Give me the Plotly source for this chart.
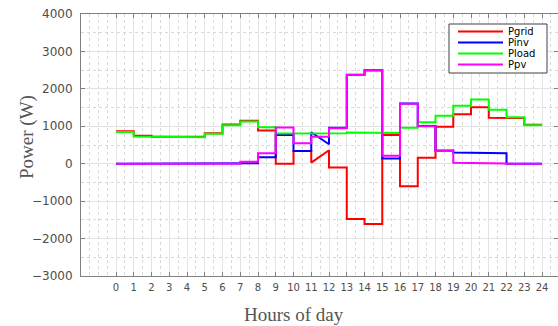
import plotly.graph_objects as go

# ---- data (per-hour interval levels, hours 0..23) ----
hours = list(range(24))
series_names = ["Pgrid", "Pinv", "Pload", "Ppv"]
series_colors = ["#ff0000", "#0000ff", "#00ff00", "#ff00ff"]

pgrid = [870, 750, 720, 720, 720, 815, 1050, 1150, 890, 0, 340, 30,
         -100, -1480, -1610, 770, -600, 160, 990, 1320, 1510, 1230, 1220, 1040]
pinv = [0, 0, 0, 0, 0, 0, 0, 10, 170, 770, 340, 840,
        960, 2380, 2500, 140, 1610, 1010, 350, 300, 280, 280, 0, 0]
pload = [850, 730, 710, 710, 710, 800, 1030, 1125, 975, 810, 815, 815,
         815, 835, 825, 820, 960, 1110, 1280, 1550, 1715, 1445, 1240, 1030]
ppv = [0, 0, 0, 0, 0, 0, 0, 55, 280, 970, 545, 720,
       950, 2370, 2490, 210, 1600, 1000, 340, 25, 10, 5, 0, 0]

# intervals where the value ramps linearly instead of staying flat: {hour: end value}
pgrid_ramp = {11: 360}
pinv_ramp = {11: 520}
pload_ramp = {}
ppv_ramp = {}

x_ticks = list(range(25))
y_ticks = [-3000, -2000, -1000, 0, 1000, 2000, 3000, 4000]
x_title = "Hours of day"
y_title = "Power (W)"


def stair(levels, ramps):
    xs, ys = [], []
    for h, v in zip(hours, levels):
        xs += [h, h + 1]
        ys += [v, ramps.get(h, v)]
    return xs, ys


fig = go.Figure()
for name, color, lv, rp in zip(series_names, series_colors,
                               [pgrid, pinv, pload, ppv],
                               [pgrid_ramp, pinv_ramp, pload_ramp, ppv_ramp]):
    xs, ys = stair(lv, rp)
    fig.add_trace(go.Scatter(x=xs, y=ys, mode="lines", name=name,
                             line=dict(color=color, width=2), showlegend=False))

W, H = 558, 326
L, R, T, B = 81, 0, 14, 50
pw, ph = W - L - R, H - T - B


def px(xp):
    return (xp - L) / pw


def py(yp):
    return (H - B - yp) / ph


# manual legend box (compact, like the MATLAB legend)
shapes = [dict(type="rect", xref="paper", yref="paper",
               x0=px(449), x1=px(547), y0=py(73), y1=py(24),
               line=dict(color="#404040", width=1), fillcolor="white", layer="above")]
annotations = []
for i, (name, color) in enumerate(zip(series_names, series_colors)):
    yy = 31.6 + i * 11.0
    shapes.append(dict(type="line", xref="paper", yref="paper",
                       x0=px(458), x1=px(503), y0=py(yy), y1=py(yy),
                       line=dict(color=color, width=2), layer="above"))
    annotations.append(dict(xref="paper", yref="paper", x=px(507), y=py(yy),
                            text=name, showarrow=False, xanchor="left", yanchor="middle",
                            height=11, valign="middle", borderpad=0,
                            font=dict(family="DejaVu Sans", size=10, color="black")))

# axis titles (placed like the reference)
annotations.append(dict(xref="paper", yref="paper", x=px(293.5), y=py(314),
                        text=x_title, showarrow=False, xanchor="center", yanchor="middle",
                        font=dict(family="Liberation Serif", size=19, color="#555555")))
annotations.append(dict(xref="paper", yref="paper", x=px(27), y=py(137),
                        text=y_title, showarrow=False, xanchor="center", yanchor="middle",
                        textangle=-90,
                        font=dict(family="Liberation Serif", size=19, color="#555555")))

grid_major = "#e3e3e3"
grid_minor = "#d9d9d9"
axis_col = "#808080"

fig.update_layout(
    width=W, height=H,
    margin=dict(l=L, r=R, t=T, b=B),
    paper_bgcolor="white", plot_bgcolor="white",
    shapes=shapes, annotations=annotations,
    xaxis=dict(range=[-1.972, 24.9], tickmode="array", tickvals=x_ticks,
               ticktext=[str(v) for v in x_ticks],
               showgrid=True, gridcolor=grid_major, gridwidth=1,
               minor=dict(tick0=0, dtick=0.5, showgrid=True, gridcolor=grid_minor,
                          griddash="dot", gridwidth=1),
               showline=True, linecolor=axis_col, linewidth=1, mirror="ticks",
               ticks="inside", ticklen=4, tickcolor=axis_col,
               tickfont=dict(family="DejaVu Sans", size=10, color="#4d4d4d"),
               ticklabelstandoff=2, zeroline=False),
    yaxis=dict(range=[-3000, 4000], tickmode="array", tickvals=y_ticks,
               showgrid=True, gridcolor=grid_major, gridwidth=1,
               minor=dict(tick0=0, dtick=500, showgrid=True, gridcolor=grid_minor,
                          griddash="dot", gridwidth=1),
               showline=True, linecolor=axis_col, linewidth=1, mirror="ticks",
               ticks="inside", ticklen=4, tickcolor=axis_col,
               tickfont=dict(family="DejaVu Sans", size=12, color="#4d4d4d"),
               ticklabelstandoff=5, zeroline=False),
)

fig.write_html("out.html")
